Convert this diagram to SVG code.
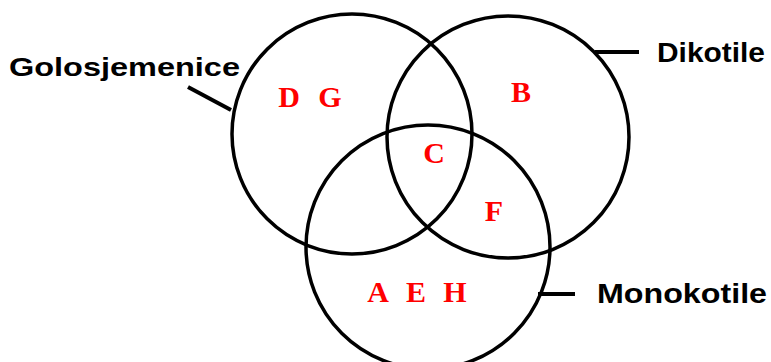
<svg xmlns="http://www.w3.org/2000/svg" width="771" height="362" viewBox="0 0 771 362">
<style>
.c{fill:none;stroke:#000;stroke-width:3.5}
.l{stroke:#000;stroke-width:4;fill:none}
.t{font-family:"Liberation Sans",Arial,sans-serif;font-weight:bold;fill:#000}
.r{font-family:"Liberation Serif","Times New Roman",serif;font-weight:bold;fill:#ff0000;font-size:30px;text-anchor:middle}
</style>
<rect width="771" height="362" fill="#fff"/>
<g id="golosjemenice">
<circle class="c" cx="352" cy="134" r="120"/>
<text class="t" x="9" y="76" font-size="26" textLength="231" lengthAdjust="spacingAndGlyphs">Golosjemenice</text>
</g>
<g id="dikotile">
<circle class="c" cx="508" cy="137" r="121"/>
<text class="t" x="657" y="61.5" font-size="28" textLength="108" lengthAdjust="spacingAndGlyphs">Dikotile</text>
</g>
<g id="monokotile">
<circle class="c" cx="428" cy="247" r="122"/>
<text class="t" x="597" y="303" font-size="28" textLength="170" lengthAdjust="spacingAndGlyphs">Monokotile</text>
</g>
<g id="connectors">
<line class="l" x1="188" y1="87" x2="231" y2="110"/>
<line class="l" x1="595" y1="52" x2="639" y2="52"/>
<line class="l" x1="538" y1="294" x2="575" y2="294"/>
</g>
<g id="letters">
<text class="r" x="289" y="107">D</text>
<text class="r" x="330" y="107">G</text>
<text class="r" x="521" y="102">B</text>
<text class="r" x="434" y="163">C</text>
<text class="r" x="494" y="221">F</text>
<text class="r" x="378" y="302">A</text>
<text class="r" x="416" y="302">E</text>
<text class="r" x="455" y="302">H</text>
</g>
</svg>
